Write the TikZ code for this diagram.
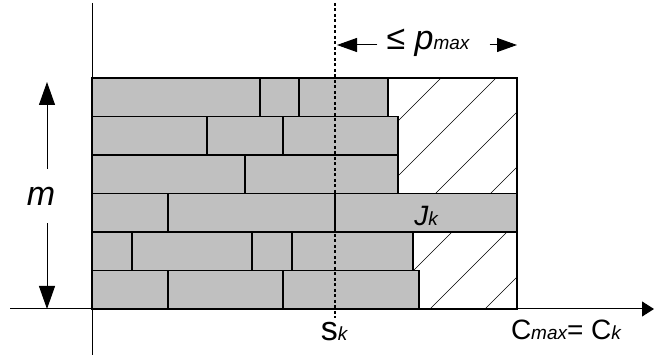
\documentclass[tikz,border=0pt]{standalone}
\usepackage{fontspec}
\setmainfont{Liberation Sans}
\usetikzlibrary{arrows.meta}
\definecolor{jobgray}{RGB}{192,192,192}
\newcommand{\lowsub}[1]{{\fontsize{19}{21}\selectfont\itshape #1}}
\newcommand{\capsize}{\fontsize{28}{32}\selectfont}
\newcommand{\lowsize}{\fontsize{34}{38}\selectfont}

\begin{document}
\begin{tikzpicture}[x=1pt,y=-1pt,
    job/.style={draw, line width=1.8pt, fill=jobgray},
    cut/.style={line width=1.8pt},
    axis/.style={line width=1pt},
    hatch/.style={line width=0.6pt},
    bigarrow/.style={line width=1pt, -{Triangle[length=23pt,width=16pt]}},
    parrow/.style={line width=1pt, -{Triangle[length=20pt,width=14pt]}}]
  \useasboundingbox (0,0) rectangle (654,363);

  % frame up to C_max, hatched idle time
  \coordinate (frameA) at (92,78);
  \coordinate (frameB) at (517,309);
  \begin{scope}
    \clip (frameA) rectangle (frameB);
    \foreach \a in {155,210,...,485}
      \draw[hatch] (\a,309) -- ++(240,-240);
  \end{scope}
  \draw[line width=1.3pt] (frameA) rectangle (frameB);

  % machines from the bottom: row/end/cuts
  \foreach \r/\e/\cuts in {0/419/{168,283}, 1/413/{132,252,292}, 2/517/{168,335},
                           3/398/{245}, 4/398/{207,283}, 5/388/{260,299}}{
    \pgfmathsetmacro\yb{309-38.5*\r}
    \pgfmathsetmacro\yt{\yb-38.5}
    \draw[job] (92,\yb) rectangle (\e,\yt);
    \foreach \c in \cuts
      \draw[cut] (\c,\yb) -- (\c,\yt);
  }

  % axes
  \coordinate (xstart) at (10,309);
  \coordinate (xend) at (654,309);
  \coordinate (ytop) at (92,3);
  \coordinate (ybot) at (92,355);
  \draw[axis, -{Triangle[length=12pt,width=15pt]}] (xstart) -- (xend);
  \draw[axis] (ytop) -- (ybot);

  % start of J_k
  \coordinate (sktop) at (335,3);
  \coordinate (skbot) at (335,318);
  \draw[line width=1.3pt, dash pattern=on 3pt off 2.5pt] (sktop) -- (skbot);

  % labels
  \node[anchor=base] (sk) at (334,341) {\lowsize s\lowsub{k}};
  \node[anchor=base] (cmax) at (566,340) {\capsize C\lowsub{max}= C\lowsub{k}};
  \node[anchor=base] (jk) at (426,226) {\capsize\itshape J\lowsub{k}};

  % number of machines
  \coordinate (mtop) at (47,82);
  \coordinate (mbot) at (47,309);
  \node[inner ysep=18pt, inner xsep=2pt] (m) at (41,196) {\lowsize\itshape m};
  \draw[bigarrow] (mtop |- m.north) -- (mtop);
  \draw[bigarrow] (mbot |- m.south) -- (mbot);

  % length of the last job
  \coordinate (pleft) at (337,45);
  \coordinate (pright) at (517,45);
  \node[anchor=base, inner xsep=9pt] (pmax) at (428,50) {\lowsize ≤ \itshape p\lowsub{max}};
  \draw[parrow] (pleft -| pmax.west) -- (pleft);
  \draw[parrow] ([xshift=11pt]pright -| pmax.east) -- (pright);
\end{tikzpicture}
\end{document}
